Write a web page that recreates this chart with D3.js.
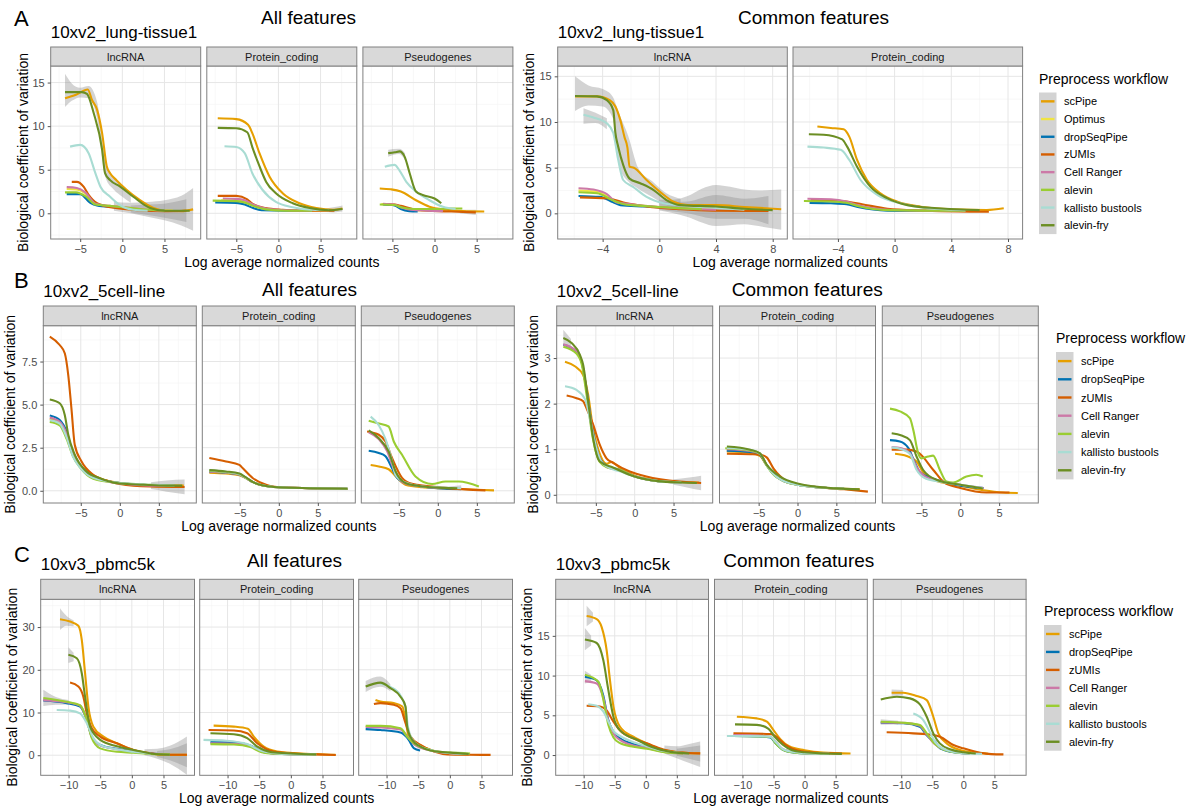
<!DOCTYPE html>
<html lang="en">
<head>
<meta charset="UTF-8">
<title>Biological coefficient of variation</title>
<script src="https://d3js.org/d3.v7.min.js"></script>
<style>
  body { margin: 0; background: #fff; }
  text { font-family: "Liberation Sans", Arial, sans-serif; }
</style>
</head>
<body>
<svg width="1199" height="812"></svg>
<script>
// ---- workflows ----
const methodsA = ["scPipe", "Optimus", "dropSeqPipe", "zUMIs", "Cell Ranger", "alevin", "kallisto bustools", "alevin-fry"];
const methodsBC = ["scPipe", "dropSeqPipe", "zUMIs", "Cell Ranger", "alevin", "kallisto bustools", "alevin-fry"];
const facetNames = ["lncRNA", "Protein_coding", "Pseudogenes"];

// ---- A: 10xv2_lung-tissue1, all features (series in methodsA order) ----
const lungAllLnc = [
  [[-6.8,13.2],[-5.5,13.6],[-4.1,14.2],[-3.6,13.0],[-3.0,11.9],[-2.4,9.2],[-1.85,5.4],[-1.45,4.6],[-0.7,3.8],[0.5,2.7],[2.1,1.5],[3.7,0.6],[5,0.3],[7,0.25],[8.4,0.45]],
  [[-6.6,2.8],[-5.3,2.7],[-4.3,2.2],[-3.2,1.1],[-2,0.9],[0,0.7],[2,0.5],[4,0.35],[6,0.3]],
  [[-6.6,2.2],[-5,2.2],[-3.8,1.2],[-3,0.9],[-1,0.7],[1,0.5],[3,0.35],[5,0.3]],
  [[-6,3.6],[-5.4,3.6],[-4.6,3.05],[-4,2.1],[-3,1.15],[-0.8,0.6],[2,0.35],[5,0.25],[7.6,0.3]],
  [[-6.6,3.0],[-5.4,2.9],[-4.4,2.4],[-3.2,1.1],[-1.5,0.85],[0.5,0.65],[3,0.4],[5,0.3]],
  [[-6.8,2.4],[-5.5,2.4],[-4.3,1.9],[-3.2,1.0],[-1.5,0.85],[0,0.7],[2,0.5],[5,0.3]],
  [[-6.2,7.65],[-5,7.85],[-4,6.9],[-3.2,4.6],[-2.6,3.05],[-1.45,1.9],[-0.3,0.95],[1.3,0.4],[3,0.3]],
  [[-6.8,13.9],[-4.8,13.9],[-4.2,13.7],[-3.4,11.5],[-2.4,7.3],[-2.05,4.6],[-1.45,3.8],[-0.3,3.1],[1.3,1.9],[3.3,0.6],[5,0.3],[8,0.3]]
];
const lungAllLncSe = [
  [[-6.8,12.2,16.0],[-6,12.9,14.9],[-5,13.3,14.4],[-4,13.2,14.6],[-3,10.9,12.8],[-2,4.1,6.0],[-1,2.7,4.1],[0,1.9,3.1],[1,1.2,2.4]],
  [[-1,0.3,1.3],[1,0,1.2],[3,-0.4,1.3],[5,-0.8,1.5],[7,-1.4,2.0],[8.4,-2.0,2.9]],
  [[1,0.1,0.9],[3,-0.2,1.0],[5,-0.5,1.1],[7.6,-1.0,1.6]]
];
const lungAllProt = [
  [[-7.2,10.9],[-5,10.8],[-3.6,10.15],[-3.1,9.2],[-2.25,6.9],[-1.05,4.2],[0.5,2.3],[2.5,1.15],[4.5,0.6],[6.5,0.4],[7.6,0.55]],
  [[-6.8,1.5],[-5,1.45],[-4,1.3],[-3,0.9],[-1.5,0.5],[1,0.35],[4,0.3],[6,0.3]],
  [[-7.5,1.25],[-5,1.2],[-4,1.0],[-3,0.6],[-2,0.35],[1,0.3],[4,0.3]],
  [[-7.2,2.0],[-5,2.0],[-3.7,1.6],[-3.1,1.1],[-1.5,0.6],[0.5,0.4],[3,0.3],[6.65,0.3]],
  [[-6.6,1.7],[-5,1.65],[-4,1.5],[-3,1.0],[-1.5,0.55],[1,0.35],[4,0.3]],
  [[-7.8,1.45],[-5,1.4],[-4,1.25],[-3,0.85],[-1.5,0.45],[1,0.3],[4,0.3]],
  [[-6.4,7.7],[-5,7.6],[-4,6.9],[-3.1,4.6],[-1.9,2.7],[-0.3,1.3],[1.7,0.7],[4,0.4],[6,0.35]],
  [[-7.2,9.8],[-5,9.75],[-3.7,9.3],[-3.1,7.6],[-2.25,5.4],[-1.45,3.6],[-0.3,2.3],[1.7,1.15],[3.7,0.6],[6,0.35],[7.6,0.5]]
];
const lungAllProtSe = [
  [[5,0.2,0.5],[6.5,0.1,0.7],[7.6,0.2,0.9]]
];
const lungAllPseudo = [
  [[-6.5,2.85],[-5.2,2.75],[-4,2.5],[-2.2,1.5],[-0.6,0.75],[1.4,0.4],[3.35,0.25],[5.9,0.2]],
  [[-6.3,1.05],[-4.8,1.0],[-4,0.75],[-2.8,0.4],[-1,0.3],[1,0.3]],
  [[-6.1,1.0],[-4.75,0.9],[-4,0.5],[-3,0.25],[-2,0.2]],
  [[-6.1,1.07],[-4.75,1.0],[-4,0.85],[-2.6,0.5],[-0.6,0.3],[2,0.2],[4.9,0.1]],
  [[-6.1,1.1],[-4.8,1.0],[-4,0.7],[-2.8,0.4],[-1,0.3],[1,0.25]],
  [[-6.5,1.0],[-4.8,0.95],[-4,0.7],[-2.5,0.5],[0,0.5],[2,0.55],[3.3,0.55]],
  [[-5.9,5.35],[-4.75,5.55],[-4.15,4.9],[-3.35,3.6],[-2.2,2.5],[-0.6,1.5],[1,0.75],[2.5,0.5]],
  [[-5.5,6.9],[-4.7,7.0],[-4.15,7.1],[-3.55,6.5],[-2.95,4.6],[-2.2,2.5],[-1.4,2.1],[0,1.7],[0.8,1.15]]
];
const lungAllPseudoSe = [
  [[-5.5,6.5,7.3],[-4.2,6.8,7.4],[-3.5,6.1,6.9]],
  [[3,0.0,0.4],[4.9,-0.2,0.4]]
];

// ---- A: 10xv2_lung-tissue1, common features ----
const lungComLnc = [
  [[-5.95,12.8],[-4.4,12.8],[-3.5,12.4],[-3.1,11.7],[-2.75,10.2],[-2.45,8.3],[-2.25,7.2],[-2.1,5.1],[-1.8,5.0],[-0.9,3.65],[0.05,2.35],[1.0,1.27],[2,0.9],[4,0.9],[6,0.7],[8.6,0.45]],
  [[-5.7,2.5],[-4.6,2.4],[-3.7,1.9],[-3,1.1],[-2,0.95],[0,0.7],[2,0.5],[4,0.4]],
  [[-5.7,1.9],[-4.2,1.8],[-3.25,1.2],[-2.75,0.9],[-1,0.75],[1,0.55],[3,0.4]],
  [[-5.6,1.75],[-3.7,1.65],[-2.3,1.1],[-0.9,0.75],[1.5,0.45],[3.8,0.3],[7.7,0.25]],
  [[-5.7,2.75],[-4.65,2.6],[-3.7,2.1],[-3,1.2],[-2,1.0],[0,0.7],[2,0.5],[4,0.4]],
  [[-5.7,2.3],[-4.4,2.2],[-3.25,1.4],[-2.5,1.0],[-1,0.8],[1,0.6],[3,0.45]],
  [[-5.35,10.8],[-4.65,10.5],[-3.7,9.85],[-3.25,8.8],[-2.9,5.85],[-2.55,3.65],[-1.85,2.9],[-0.9,1.8],[0.3,1.1],[2,0.8],[4,0.6],[6,0.4]],
  [[-5.95,12.85],[-4.4,12.8],[-3.7,12.4],[-3.25,11.3],[-3.1,8.8],[-2.9,7.3],[-2.55,5.3],[-2.1,3.8],[-1.35,3.3],[-0.4,2.55],[0.5,1.45],[1.5,0.9],[4,0.75],[6,0.5],[8,0.35]]
];
const lungComLncSe = [
  [[-5.95,11.2,15.0],[-5,11.8,14.0],[-4,11.7,13.6],[-3.3,10.5,12.8],[-2.8,5.0,10.8],[-2.2,3.5,8.5],[-1.5,2.7,5.0],[-0.5,1.8,3.5],[0.5,0.9,2.2],[1.5,0.4,1.6]],
  [[-5.35,9.8,11.5],[-4.5,9.9,11.0],[-3.7,9.2,10.4]],
  [[0,0.3,1.5],[1,0.0,1.5],[2,-0.4,1.9],[3,-1.0,2.7],[4,-1.4,3.1],[5,-1.3,2.9],[6,-1.2,2.6],[7,-1.4,2.5],[8.6,-1.8,2.6]],
  [[0,0.4,1.2],[2,0.0,1.3],[4,-0.6,2.0],[6,-0.6,1.6],[7.7,-1.2,1.9]]
];
const lungComProt = [
  [[-5.45,9.5],[-4.5,9.35],[-3.6,9.2],[-3.2,8.4],[-2.65,5.85],[-1.95,3.65],[-1,2.2],[0.2,1.27],[1.85,0.73],[4.2,0.44],[6.5,0.36],[7.7,0.55]],
  [[-6,1.4],[-4.5,1.35],[-3.4,1.2],[-2.6,0.85],[-0.5,0.4],[2,0.3],[5,0.3]],
  [[-6,1.15],[-4.5,1.1],[-3.4,1.0],[-2.6,0.7],[-0.5,0.3],[2,0.25],[5,0.3]],
  [[-5.9,1.45],[-4.5,1.42],[-3.4,1.3],[-2.3,1.0],[-0.5,0.5],[2,0.3],[4.5,0.2],[6.65,0.18]],
  [[-6.15,1.6],[-4.5,1.55],[-3.4,1.3],[-2.6,0.9],[-0.5,0.4],[2,0.3],[5,0.3]],
  [[-6.4,1.35],[-4.5,1.3],[-3.4,1.15],[-2.6,0.8],[-0.5,0.35],[2,0.3],[5,0.3]],
  [[-6.15,7.3],[-5,7.2],[-3.8,6.95],[-3.2,5.85],[-2.4,3.65],[-1.2,2.0],[0.4,1.1],[2.3,0.55],[5,0.35]],
  [[-6.05,8.65],[-5,8.6],[-3.7,8.1],[-3.35,7.3],[-2.65,5.1],[-1.7,2.9],[-0.5,1.64],[0.9,0.9],[3,0.55],[6,0.35]]
];

// ---- B: 10xv2_5cell-line, all features (series in methodsBC order) ----
const cellAllLnc = [
  [[-8.97,4.18],[-7.7,4.0],[-6.8,3.2],[-6,2.1],[-5,1.4],[-4.27,1.12],[-2.56,0.73],[0,0.45],[3,0.35],[6,0.3],[8.2,0.3]],
  [[-8.97,4.37],[-7.7,4.1],[-6.8,3.4],[-6.2,2.47],[-5.13,1.5],[-3.4,0.8],[-1.5,0.55],[0,0.45],[3,0.35],[6,0.3]],
  [[-8.97,8.95],[-7.7,8.46],[-7.05,7.98],[-6.6,6.7],[-6.2,4.8],[-5.77,2.67],[-4.9,1.7],[-3.4,0.93],[-1.3,0.54],[0,0.4],[3.85,0.25],[8.3,0.22]],
  [[-8.97,4.25],[-7.7,4.0],[-6.8,3.3],[-6,2.2],[-5,1.45],[-3.4,0.8],[0,0.42],[4,0.3],[7,0.3]],
  [[-8.97,4.0],[-7.7,3.8],[-6.8,3.0],[-6,2.0],[-5,1.3],[-3.4,0.7],[0,0.45],[4,0.35],[7,0.3]],
  [[-8.97,4.1],[-7.7,3.9],[-6.8,3.1],[-6,2.0],[-5,1.3],[-3.4,0.75],[0,0.45],[4,0.35],[7,0.3]],
  [[-8.97,5.3],[-7.7,5.08],[-7.05,4.4],[-6.6,3.25],[-5.77,2.1],[-4.27,1.12],[-2.56,0.73],[0,0.42],[3,0.35],[6,0.3],[8,0.3]]
];
const cellAllLncSe = [
  [[4,0.1,0.5],[6,-0.05,0.6],[8.3,-0.2,0.65]]
];
const cellAllProt = [
  [[-8.9,1.05],[-6.8,1.0],[-5.05,0.9],[-4.3,0.75],[-3.3,0.5],[-2,0.3],[0,0.2],[4,0.15],[8.8,0.12]],
  [[-8.9,1.1],[-6.8,1.05],[-5.05,0.95],[-4.3,0.78],[-3.3,0.5],[-2,0.3],[0,0.2],[4,0.15],[8.8,0.12]],
  [[-8.9,1.9],[-6.76,1.7],[-5.05,1.5],[-4.6,1.3],[-3.35,0.74],[-1.63,0.35],[0.3,0.2],[4,0.15],[8.83,0.1]],
  [[-8.9,1.1],[-6.8,1.05],[-5.05,0.94],[-4.3,0.76],[-3.3,0.5],[-2,0.3],[0,0.2],[4,0.15],[8.8,0.12]],
  [[-8.9,1.15],[-6.8,1.08],[-5.05,0.96],[-4.3,0.77],[-3.3,0.5],[-2,0.3],[0,0.2],[4,0.15],[8.8,0.12]],
  [[-8.9,1.2],[-6.8,1.1],[-5.05,0.98],[-4.3,0.78],[-3.3,0.5],[-2,0.3],[0,0.2],[4,0.15],[8.8,0.12]],
  [[-8.9,1.2],[-6.8,1.12],[-5.05,1.0],[-4.3,0.8],[-3.3,0.5],[-2,0.3],[0,0.2],[4,0.15],[8.8,0.12]]
];
const cellAllPseudo = [
  [[-8.6,1.5],[-7.56,1.41],[-6.3,1.25],[-5.2,0.75],[-4.15,0.35],[-2,0.2],[0,0.15],[3,0.1],[7.2,0.02]],
  [[-8.85,2.32],[-7.56,2.19],[-6.7,2.0],[-5.86,1.3],[-5.2,0.75],[-4.15,0.45],[-2,0.25],[0,0.15],[2.5,0.1]],
  [[-9.06,3.44],[-7.56,3.25],[-6.7,2.86],[-5.86,1.9],[-4.58,0.75],[-3.3,0.4],[1,0.17],[6.1,0.02]],
  [[-8.85,3.4],[-7.56,3.0],[-6.5,2.3],[-5.5,1.1],[-4.3,0.45],[-2,0.25],[1,0.15]],
  [[-8.85,4.07],[-7.56,3.9],[-6.3,3.73],[-5.64,2.86],[-4.58,2.09],[-2.86,0.83],[-0.73,0.39],[0.99,0.54],[2.7,0.54],[5.26,0.25]],
  [[-8.6,4.3],[-7.56,3.8],[-6.7,3.0],[-5.9,1.8],[-5.4,0.9],[-4,0.45],[-2,0.25],[0,0.2],[3,0.15]],
  [[-8.85,3.5],[-7.56,3.05],[-6.3,2.28],[-5.4,1.12],[-4.15,0.45],[-2,0.25],[0,0.18],[2.5,0.15]]
];
const cellAllPseudoSe = [
  [[1.5,0.05,0.25],[3,-0.02,0.32]]
];

// ---- B: 10xv2_5cell-line, common features ----
const cellComLnc = [
  [[-8.97,2.92],[-7.7,2.82],[-6.63,2.63],[-6.0,2.2],[-5.4,1.5],[-4.6,0.95],[-3.6,0.68],[-3.0,0.72],[-2,0.6],[0,0.42],[3,0.32],[6,0.28],[8.3,0.27]],
  [[-9.19,3.29],[-7.5,3.14],[-6.8,2.9],[-6.2,2.3],[-5.4,1.4],[-4.5,0.8],[-3.5,0.62],[-2,0.55],[0,0.4],[3,0.3],[6,0.27]],
  [[-8.76,2.18],[-7.48,2.12],[-6.63,2.05],[-6.2,1.9],[-5.35,1.54],[-4.5,1.1],[-3.63,0.8],[-2.78,0.7],[-0.64,0.51],[1.5,0.4],[5.77,0.29],[8.55,0.26]],
  [[-9.19,3.3],[-7.5,3.15],[-6.8,2.9],[-6.2,2.3],[-5.4,1.35],[-4.5,0.8],[-3.5,0.6],[-2,0.55],[0,0.4],[3,0.3],[6,0.27]],
  [[-9.19,3.25],[-7.5,3.1],[-6.8,2.85],[-6.2,2.2],[-5.4,1.25],[-4.5,0.72],[-3.5,0.6],[-2,0.55],[0,0.4],[3,0.3],[6,0.27]],
  [[-8.97,2.38],[-7.5,2.3],[-6.4,2.1],[-5.8,1.7],[-5.2,1.2],[-4.4,0.75],[-3.4,0.6],[-2,0.52],[0,0.4],[3,0.3],[6,0.27]],
  [[-9.19,3.44],[-8.12,3.33],[-7.05,3.07],[-6.63,2.85],[-5.99,2.05],[-5.35,1.24],[-4.49,0.73],[-2.8,0.6],[0,0.4],[3,0.3],[6,0.27],[8,0.26]]
];
const cellComLncSe = [
  [[-9.19,3.28,3.62],[-8.2,3.25,3.42]],
  [[5,0.22,0.34],[7,0.15,0.38],[8.55,0.1,0.42]]
];
const cellComProt = [
  [[-9.1,0.95],[-6.1,0.92],[-4.8,0.85],[-4.1,0.68],[-3,0.45],[-2,0.32],[0,0.22],[3,0.16],[6,0.13],[8,0.12]],
  [[-9.1,0.97],[-6.1,0.94],[-4.8,0.87],[-4,0.66],[-3,0.44],[-2,0.32],[0,0.22],[3,0.16],[6,0.13]],
  [[-9.09,0.9],[-6.1,0.89],[-4.82,0.88],[-3.97,0.82],[-3.1,0.58],[-1.4,0.3],[0,0.23],[3,0.16],[6,0.12],[9.06,0.07]],
  [[-9.1,1.0],[-6.1,0.96],[-4.8,0.9],[-4,0.66],[-3,0.44],[-2,0.32],[0,0.22],[3,0.16],[6,0.13]],
  [[-9.3,1.02],[-6.1,0.97],[-4.8,0.9],[-4,0.65],[-3,0.43],[-2,0.32],[0,0.22],[3,0.16],[6,0.13]],
  [[-9.1,1.03],[-6.1,0.99],[-4.8,0.9],[-4,0.66],[-3,0.44],[-2,0.32],[0,0.22],[3,0.16],[6,0.13]],
  [[-9.09,1.06],[-6.1,0.99],[-4.82,0.91],[-3.97,0.66],[-2.26,0.4],[0,0.25],[5,0.14],[8,0.12]]
];
const cellComPseudo = [
  [[-8.4,0.9],[-6.9,0.85],[-5.63,0.73],[-4.8,0.5],[-3.5,0.33],[0,0.2],[3,0.1],[5.5,0.05],[7.4,0.04]],
  [[-9.05,1.2],[-7.77,1.17],[-6.7,1.03],[-5.85,0.71],[-5.2,0.5],[-3.5,0.35],[-1.5,0.25],[1,0.18],[3,0.15]],
  [[-8.83,0.99],[-6.9,0.99],[-5.63,0.95],[-5.2,0.9],[-3.5,0.55],[-2,0.26],[0,0.15],[3.35,0.05],[6.33,0.05]],
  [[-8.83,1.05],[-7.56,1.02],[-6.5,0.92],[-5.6,0.6],[-4.5,0.4],[-3,0.32],[0,0.22],[3,0.15]],
  [[-9.05,1.89],[-7.77,1.83],[-6.49,1.68],[-6.06,1.43],[-5.42,0.91],[-5.0,0.8],[-4.14,0.84],[-3.5,0.86],[-2.64,0.55],[-1.78,0.29],[-0.93,0.27],[0.78,0.4],[2.06,0.44],[2.9,0.4]],
  [[-8.83,1.04],[-7.56,1.0],[-6.5,0.9],[-5.63,0.55],[-4.4,0.35],[-3,0.3],[0,0.22],[2.9,0.15]],
  [[-8.83,1.35],[-7.56,1.3],[-6.49,1.2],[-5.63,0.84],[-4.8,0.55],[-3.07,0.33],[0,0.22],[2.9,0.14]]
];

// ---- C: 10xv3_pbmc5k, all features ----
const pbmcAllLnc = [
  [[-11.35,31.85],[-9.76,31.3],[-8.45,30.3],[-7.91,27.0],[-7.39,19.2],[-6.87,11.4],[-6.08,6.7],[-4.49,4.36],[-2.37,2.8],[0.25,1.24],[2.9,0.47],[5.5,0.07],[8.7,0.07]],
  [[-13.99,12.8],[-10.3,12.2],[-8.18,11.4],[-7.12,8.27],[-6.33,4.36],[-5,2.4],[-2.37,1.5],[0.25,0.9],[3,0.4],[6,0.2]],
  [[-9.76,17.0],[-8.45,16.1],[-7.66,13.7],[-7.12,9.8],[-6.33,6.3],[-5,4.36],[-2.37,2.8],[0.25,1.24],[3,0.4],[5.5,0.1],[8.7,0.1]],
  [[-13.99,12.9],[-10.3,12.4],[-8.18,11.6],[-7.12,8.3],[-6.33,4.3],[-5,2.3],[-2.37,1.4],[0.25,0.85],[3,0.4],[6,0.2]],
  [[-13.99,13.4],[-10.3,12.5],[-8.18,11.7],[-7.12,8.3],[-6.33,4.0],[-5,1.6],[-2.37,0.8],[0.25,0.6],[3,0.3],[6,0.2]],
  [[-11.87,10.6],[-9.76,10.45],[-8.18,9.8],[-7.12,7.5],[-6.08,4.0],[-5,2.4],[-2.37,1.4],[0.25,0.8],[3,0.35]],
  [[-10.03,23.5],[-8.7,22.7],[-7.91,19.2],[-7.39,13.7],[-6.6,6.7],[-5,3.6],[-2.37,2.1],[0.25,1.24],[3,0.4],[6,0.1]]
];
const pbmcAllLncSe = [
  [[-11.35,29.3,34.4],[-10.3,30.3,32.6],[-9.2,30.2,31.6]],
  [[-10.03,21.6,25.3],[-9.2,22.0,24.0]],
  [[-13.99,11.5,15.3],[-12,11.8,13.6],[-10,11.9,12.9]],
  [[2,0.0,1.4],[4,-0.8,1.5],[6,-2.0,2.2],[8.7,-4.6,4.4]],
  [[4,-0.4,1.0],[6,-1.2,1.4],[8.7,-2.8,2.8]]
];
const pbmcAllProt = [
  [[-12.2,6.93],[-9.0,6.7],[-6.8,6.2],[-5.85,4.36],[-4.27,2.0],[-2.15,0.85],[0.5,0.5],[4,0.25],[7.07,0.07]],
  [[-12.7,3.1],[-9,3.0],[-6.4,2.3],[-4.6,0.9],[-2.5,0.4],[0,0.25],[4,0.2]],
  [[-13,5.9],[-9,5.8],[-6.9,5.15],[-5.3,2.8],[-2.7,0.85],[0,0.45],[4,0.2],[7.1,0.05]],
  [[-12.7,2.8],[-9,2.7],[-6.4,2.1],[-4.6,0.8],[-2.5,0.4],[0,0.25],[4,0.2]],
  [[-12.7,2.6],[-9,2.5],[-6.4,1.9],[-4.6,0.7],[-2.5,0.35],[0,0.25],[4,0.2]],
  [[-13.8,3.6],[-10.2,3.4],[-6.9,2.6],[-4.8,1.1],[-2.5,0.5],[0,0.3],[4,0.2]],
  [[-12.7,5.15],[-9,4.9],[-6.9,4.0],[-5.3,2.0],[-3,0.7],[0,0.4],[4,0.2]]
];
const pbmcAllPseudo = [
  [[-11.75,12.95],[-10.96,12.55],[-8.86,12.2],[-7.5,11.4],[-7.0,8.27],[-6.5,4.36],[-5.2,2.8],[-3,1.2],[0,0.4],[3,0.2]],
  [[-13.3,6.1],[-10.96,5.9],[-7.8,5.3],[-6.5,3.6],[-5.7,1.64],[-4.7,1.1]],
  [[-12.0,12.0],[-10.96,12.2],[-8.86,11.8],[-7.8,11.0],[-7.0,7.5],[-6.2,4.36],[-4.64,2.4],[-2.5,0.85],[-0.4,0.2],[3,0.1],[6.44,0.07]],
  [[-13.3,6.6],[-10.96,6.5],[-7.8,6.0],[-6.6,4.2],[-5.6,2.5],[-3,1.1],[0,0.5],[2.5,0.4]],
  [[-13.3,6.86],[-10.96,6.86],[-7.8,6.3],[-6.74,4.36],[-5.7,2.8],[-3.07,1.24],[0,0.6],[2.2,0.5],[3.2,0.4]],
  [[-11,16.8],[-9.4,16.0],[-7.8,14.0],[-7.0,11.0],[-6.6,6.5],[-5.9,3.6],[-4.6,2.0],[-2.5,1.0],[0,0.5],[3,0.3]],
  [[-13.3,16.07],[-10.96,17.0],[-9.38,15.7],[-7.8,13.7],[-7.0,11.4],[-6.74,6.7],[-5.95,3.6],[-4.64,2.0],[-3.07,1.1],[0,0.6],[3,0.3]]
];
const pbmcAllPseudoSe = [
  [[-13.3,14.8,17.4],[-11,16.0,18.4],[-9.4,15.0,16.6]]
];

// ---- C: 10xv3_pbmc5k, common features ----
const pbmcComLnc = [
  [[-9.52,17.5],[-7.9,17.1],[-7.1,16.1],[-6.3,13.2],[-5.76,9.4],[-5.2,6.1],[-4.15,3.56],[-2.0,2.3],[0.16,1.47],[2.84,0.63],[5.5,0.3],[8.76,0.21]],
  [[-9.8,9.85],[-7.9,9.4],[-6.84,7.5],[-6.03,4.4],[-5.2,2.9],[-4.15,2.1],[-2,1.4],[0.16,1.0],[3,0.5],[6,0.25]],
  [[-9.52,6.2],[-7.37,6.1],[-6.3,5.6],[-5.2,4.2],[-4.15,3.1],[-2.0,2.1],[0.16,1.47],[2.84,0.7],[5.5,0.35],[8.76,0.21]],
  [[-9.8,9.3],[-7.9,9.0],[-6.84,7.2],[-6.03,4.3],[-5.2,2.7],[-4.15,1.9],[-2,1.2],[0.16,0.9],[3,0.4],[6,0.2]],
  [[-9.8,10.1],[-7.6,9.2],[-6.84,7.0],[-6.03,3.8],[-5.2,2.2],[-4.15,1.5],[-2,1.05],[0.16,0.8],[3,0.35],[6,0.2]],
  [[-9.26,6.4],[-7.9,6.2],[-6.84,5.5],[-6,4.2],[-5.2,3.0],[-4.15,2.4],[-2,1.6],[0.16,1.1],[3,0.5],[6,0.25]],
  [[-9.8,14.55],[-7.9,14.1],[-6.84,11.95],[-6.03,8.2],[-5.2,4.8],[-4.15,3.1],[-1.1,1.8],[1,1.0],[4,0.4],[7,0.2]]
];
const pbmcComLncSe = [
  [[-9.52,16.2,18.8],[-8.5,16.8,17.9]],
  [[-9.8,13.2,16.0],[-8.8,13.8,15.0]],
  [[-9.8,9.0,10.6],[-8.8,9.2,10.1]],
  [[3,0.2,1.2],[5,-0.4,1.1],[7,-1.0,1.4],[8.76,-1.5,1.7]],
  [[5,-0.1,0.8],[8.76,-0.8,1.2]]
];
const pbmcComProt = [
  [[-10.9,4.82],[-7.68,4.61],[-6.06,4.2],[-5.0,3.14],[-3.9,2.0],[-2.5,1.1],[0,0.6],[3,0.3],[7.4,0.2]],
  [[-11.45,2.4],[-7.5,2.35],[-5.5,2.2],[-4.7,1.5],[-3.4,0.63],[-1.5,0.3],[1,0.2],[4,0.15]],
  [[-11.45,2.73],[-5.5,2.64],[-4.5,2.3],[-3.4,1.47],[-2,0.8],[0,0.4],[3,0.25],[6,0.2]],
  [[-11.45,2.5],[-7.5,2.45],[-5.5,2.3],[-4.6,1.6],[-3.4,0.7],[-1.5,0.35],[1,0.2],[4,0.15]],
  [[-11.45,2.4],[-5.5,2.3],[-4.7,1.5],[-3.4,0.63],[-1.5,0.3],[1,0.2],[4,0.15]],
  [[-12.5,2.4],[-9,2.4],[-5.5,2.3],[-4.6,1.6],[-3.4,0.7],[-1.5,0.35],[1,0.2],[4,0.15]],
  [[-11.2,3.86],[-7.68,3.8],[-5.8,3.3],[-4.8,2.3],[-3.5,1.3],[-2,0.6],[0,0.35],[3,0.2],[6,0.15]]
];
const pbmcComPseudo = [
  [[-11.55,7.84],[-9.68,7.84],[-7.52,7.42],[-5.9,6.92],[-4.84,4.82],[-4.03,2.73],[-2.68,1.47],[-0.54,0.63],[2,0.3],[4,0.15]],
  [[-13.3,4.07],[-9.68,4.0],[-7.0,3.56],[-5.9,2.5],[-5.1,1.9],[-4.57,1.7],[-4.03,1.05],[-3,0.6],[-1,0.3],[1,0.2]],
  [[-12.35,2.86],[-8.06,2.73],[-4.84,2.52],[-3.76,2.3],[-1.6,1.26],[0,0.84],[2.7,0.29],[4.5,0.12],[6.45,0.08]],
  [[-13.3,4.1],[-9.68,4.05],[-7,3.7],[-5.9,2.6],[-4.8,1.5],[-3.5,0.8],[-1.5,0.4],[1,0.2]],
  [[-13.3,4.19],[-9.68,4.07],[-7.0,3.77],[-5.9,2.73],[-4.7,1.47],[-3.5,0.8],[-1.5,0.35],[1,0.2]],
  [[-8.06,5.24],[-6.45,4.4],[-5.4,2.9],[-4.5,1.6],[-3.3,0.8],[-1.5,0.4],[1,0.2],[3,0.15]],
  [[-13.3,7.0],[-10.7,7.34],[-8.6,7.13],[-7.0,6.38],[-5.9,4.82],[-4.84,2.73],[-3.8,1.47],[-2,0.7],[0,0.35],[2,0.2]]
];
const pbmcComPseudoSe = [
  [[-11.55,7.45,8.25],[-9.7,7.5,8.2]],
  [[-13.3,3.8,4.5],[-10.5,3.85,4.3]]
];

// tick labels per block
const ticksA_x = [-5, 0, 5], ticksA_y = [0, 5, 10, 15];
const ticksA2_x = [-4, 0, 4, 8], ticksA2_y = [0, 5, 10, 15];
const ticksB_x = [-5, 0, 5], ticksB_y = [0, 2.5, 5, 7.5];
const ticksB2_x = [-5, 0, 5], ticksB2_y = [0, 1, 2, 3];
const ticksC_x = [-10, -5, 0, 5], ticksC_y = [0, 10, 20, 30];
const ticksC2_x = [-10, -5, 0, 5], ticksC2_y = [0, 5, 10, 15];

// ---- styling ----
const wfColour = {
  "scPipe": "#E69F00", "Optimus": "#F0E442", "dropSeqPipe": "#0072B2", "zUMIs": "#D55E00",
  "Cell Ranger": "#CC79A7", "alevin": "#9ACD32", "kallisto bustools": "#A9DCD3", "alevin-fry": "#6B8E23"
};
const svg = d3.select("svg");
svg.append("rect").attr("width", 1199).attr("height", 812).attr("fill", "#fff");
let clipId = 0;

function minorBreaks(major, dom) {
  const step = major[1] - major[0];
  const out = [];
  for (let v = major[0] - step / 2; v <= major[major.length - 1] + step; v += step) {
    if (v >= dom[0] && v <= dom[1]) out.push(v);
  }
  return out;
}

function drawBlock(cfg) {
  const h = cfg.bottom - cfg.top;
  const x = d3.scaleLinear().domain(cfg.xDomain).range([0, cfg.panelW]);
  const y = d3.scaleLinear().domain(cfg.yDomain).range([h, 0]);
  const line = d3.line().x(d => x(d[0])).y(d => y(d[1])).curve(d3.curveMonotoneX);
  const area = d3.area().x(d => x(d[0])).y0(d => y(d[1])).y1(d => y(d[2])).curve(d3.curveMonotoneX);
  const xMinor = minorBreaks(cfg.xTicks, cfg.xDomain);
  const yMinor = minorBreaks(cfg.yTicks, cfg.yDomain);

  cfg.facets.forEach((f, i) => {
    const left = cfg.left + i * (cfg.panelW + cfg.gap);
    const g = svg.append("g").attr("transform", `translate(${left},${cfg.top})`);
    const id = "clip" + (clipId++);
    g.append("clipPath").attr("id", id).append("rect").attr("width", cfg.panelW).attr("height", h);

    // grid
    g.selectAll(".gx").data(xMinor).join("line")
      .attr("x1", d => x(d)).attr("x2", d => x(d)).attr("y1", 0).attr("y2", h)
      .attr("stroke", "#f3f3f3").attr("stroke-width", 0.6);
    g.selectAll(".gy").data(yMinor).join("line")
      .attr("y1", d => y(d)).attr("y2", d => y(d)).attr("x1", 0).attr("x2", cfg.panelW)
      .attr("stroke", "#f3f3f3").attr("stroke-width", 0.6);
    g.selectAll(".Gx").data(cfg.xTicks).join("line")
      .attr("x1", d => x(d)).attr("x2", d => x(d)).attr("y1", 0).attr("y2", h)
      .attr("stroke", "#e6e6e6").attr("stroke-width", 1);
    g.selectAll(".Gy").data(cfg.yTicks).join("line")
      .attr("y1", d => y(d)).attr("y2", d => y(d)).attr("x1", 0).attr("x2", cfg.panelW)
      .attr("stroke", "#e6e6e6").attr("stroke-width", 1);

    const plot = g.append("g").attr("clip-path", `url(#${id})`);
    (f.se || []).forEach(b => {
      plot.append("path").attr("d", area(b)).attr("fill", "#8c8c8c").attr("opacity", 0.38);
    });
    f.series.forEach((s, k) => {
      plot.append("path").attr("d", line(s))
        .attr("fill", "none").attr("stroke", wfColour[cfg.methods[k]])
        .attr("stroke-width", 2.1).attr("stroke-linejoin", "round");
    });

    g.append("rect").attr("width", cfg.panelW).attr("height", h)
      .attr("fill", "none").attr("stroke", "#808080").attr("stroke-width", 1);

    // strip
    g.append("rect").attr("y", -cfg.stripH).attr("width", cfg.panelW).attr("height", cfg.stripH)
      .attr("fill", "#d9d9d9").attr("stroke", "#808080").attr("stroke-width", 1);
    g.append("text").attr("x", cfg.panelW / 2).attr("y", -cfg.stripH / 2 + 4)
      .attr("text-anchor", "middle").attr("font-size", 11).attr("fill", "#1a1a1a").text(f.name);

    // x axis
    const ax = g.append("g").attr("transform", `translate(0,${h})`)
      .call(d3.axisBottom(x).tickValues(cfg.xTicks).tickSize(3).tickPadding(3));
    ax.select(".domain").remove();
    ax.selectAll("line").attr("stroke", "#555");
    ax.selectAll("text").attr("font-size", 11).attr("fill", "#4d4d4d").attr("font-family", "Liberation Sans, Arial, sans-serif");

    if (i === 0) {
      const ay = g.append("g").call(d3.axisLeft(y).tickValues(cfg.yTicks).tickFormat(cfg.yFormat).tickSize(3).tickPadding(3));
      ay.select(".domain").remove();
      ay.selectAll("line").attr("stroke", "#555");
      ay.selectAll("text").attr("font-size", 11).attr("fill", "#4d4d4d").attr("font-family", "Liberation Sans, Arial, sans-serif");
    }
  });

  const totalW = cfg.facets.length * cfg.panelW + (cfg.facets.length - 1) * cfg.gap;
  svg.append("text").attr("x", cfg.left + totalW / 2).attr("y", cfg.bottom + 27.5)
    .attr("text-anchor", "middle").attr("font-size", 14).attr("fill", "#000")
    .text("Log average normalized counts");
  svg.append("text").attr("transform", `translate(${cfg.yTitleX},${(cfg.top + cfg.bottom) / 2}) rotate(-90)`)
    .attr("text-anchor", "middle").attr("font-size", 14).attr("fill", "#000")
    .text("Biological coefficient of variation");
  svg.append("text").attr("x", cfg.left).attr("y", cfg.subY).attr("font-size", 17).text(cfg.dataset);
  svg.append("text").attr("x", cfg.titleX).attr("y", cfg.titleY).attr("font-size", 19).text(cfg.title);
}

function drawLegend(methods, lx, ty, keyH) {
  svg.append("text").attr("x", lx).attr("y", ty).attr("font-size", 14).text("Preprocess workflow");
  const top = ty + 9;
  svg.append("rect").attr("x", lx).attr("y", top).attr("width", 17.5).attr("height", keyH * methods.length)
    .attr("fill", "#d3d3d3");
  methods.forEach((m, i) => {
    const cy = top + keyH * (i + 0.5);
    svg.append("line").attr("x1", lx + 2).attr("x2", lx + 15.5).attr("y1", cy).attr("y2", cy)
      .attr("stroke", wfColour[m]).attr("stroke-width", 2.4);
    svg.append("text").attr("x", lx + 25).attr("y", cy + 4).attr("font-size", 11).attr("fill", "#000").text(m);
  });
}

const fmtInt = d3.format("d"), fmt1 = d3.format(".1f");

// ---- A ----
drawBlock({ methods: methodsA, left: 50.7, panelW: 150, gap: 6.1, top: 66, bottom: 239, stripH: 19,
  xDomain: [-8.5, 9.3], yDomain: [-2.95, 16.9], xTicks: ticksA_x, yTicks: ticksA_y, yFormat: fmtInt,
  yTitleX: 27.5, dataset: "10xv2_lung-tissue1", subY: 37.5, title: "All features", titleX: 261, titleY: 23.5,
  facets: [{ name: facetNames[0], series: lungAllLnc, se: lungAllLncSe },
           { name: facetNames[1], series: lungAllProt, se: lungAllProtSe },
           { name: facetNames[2], series: lungAllPseudo, se: lungAllPseudoSe }] });
drawBlock({ methods: methodsA, left: 557.7, panelW: 229.6, gap: 5.7, top: 66, bottom: 239, stripH: 19,
  xDomain: [-7.17, 9.03], yDomain: [-2.81, 16.13], xTicks: ticksA2_x, yTicks: ticksA2_y, yFormat: fmtInt,
  yTitleX: 533.5, dataset: "10xv2_lung-tissue1", subY: 37.5, title: "Common features", titleX: 738, titleY: 23.5,
  facets: [{ name: facetNames[0], series: lungComLnc, se: lungComLncSe },
           { name: facetNames[1], series: lungComProt }] });
drawLegend(methodsA, 1039, 83.5, 17.7);

// ---- B ----
drawBlock({ methods: methodsBC, left: 43.3, panelW: 153, gap: 6, top: 325.7, bottom: 503, stripH: 19.7,
  xDomain: [-9.8, 9.8], yDomain: [-0.71, 9.58], xTicks: ticksB_x, yTicks: ticksB_y, yFormat: fmt1,
  yTitleX: 14.5, dataset: "10xv2_5cell-line", subY: 296.5, title: "All features", titleX: 262, titleY: 295.5,
  facets: [{ name: facetNames[0], series: cellAllLnc, se: cellAllLncSe },
           { name: facetNames[1], series: cellAllProt },
           { name: facetNames[2], series: cellAllPseudo, se: cellAllPseudoSe }] });
drawBlock({ methods: methodsBC, left: 556.7, panelW: 156, gap: 6.8, top: 325.7, bottom: 503, stripH: 19.7,
  xDomain: [-10.04, 10.04], yDomain: [-0.18, 3.71], xTicks: ticksB2_x, yTicks: ticksB2_y, yFormat: fmtInt,
  yTitleX: 538, dataset: "10xv2_5cell-line", subY: 296.5, title: "Common features", titleX: 731.7, titleY: 295.5,
  facets: [{ name: facetNames[0], series: cellComLnc, se: cellComLncSe },
           { name: facetNames[1], series: cellComProt },
           { name: facetNames[2], series: cellComPseudo }] });
drawLegend(methodsBC, 1056, 343, 18.2);

// ---- C ----
drawBlock({ methods: methodsBC, left: 40.7, panelW: 153.8, gap: 5.2, top: 599.3, bottom: 775.3, stripH: 20,
  xDomain: [-14.4, 9.9], yDomain: [-4.7, 36.5], xTicks: ticksC_x, yTicks: ticksC_y, yFormat: fmtInt,
  yTitleX: 17, dataset: "10xv3_pbmc5k", subY: 569.5, title: "All features", titleX: 247, titleY: 567,
  facets: [{ name: facetNames[0], series: pbmcAllLnc, se: pbmcAllLncSe },
           { name: facetNames[1], series: pbmcAllProt },
           { name: facetNames[2], series: pbmcAllPseudo, se: pbmcAllPseudoSe }] });
drawBlock({ methods: methodsBC, left: 555.7, panelW: 152.8, gap: 6, top: 599.3, bottom: 775.3, stripH: 20,
  xDomain: [-14.5, 10.1], yDomain: [-2.55, 19.6], xTicks: ticksC2_x, yTicks: ticksC2_y, yFormat: fmtInt,
  yTitleX: 532, dataset: "10xv3_pbmc5k", subY: 569.5, title: "Common features", titleX: 723.3, titleY: 567,
  facets: [{ name: facetNames[0], series: pbmcComLnc, se: pbmcComLncSe },
           { name: facetNames[1], series: pbmcComProt },
           { name: facetNames[2], series: pbmcComPseudo, se: pbmcComPseudoSe }] });
drawLegend(methodsBC, 1044, 616, 17.96);

// panel letters
[["A", 26], ["B", 288], ["C", 562]].forEach(([t, yy]) => {
  svg.append("text").attr("x", 14).attr("y", yy).attr("font-size", 22).text(t);
});
</script>
</body>
</html>
